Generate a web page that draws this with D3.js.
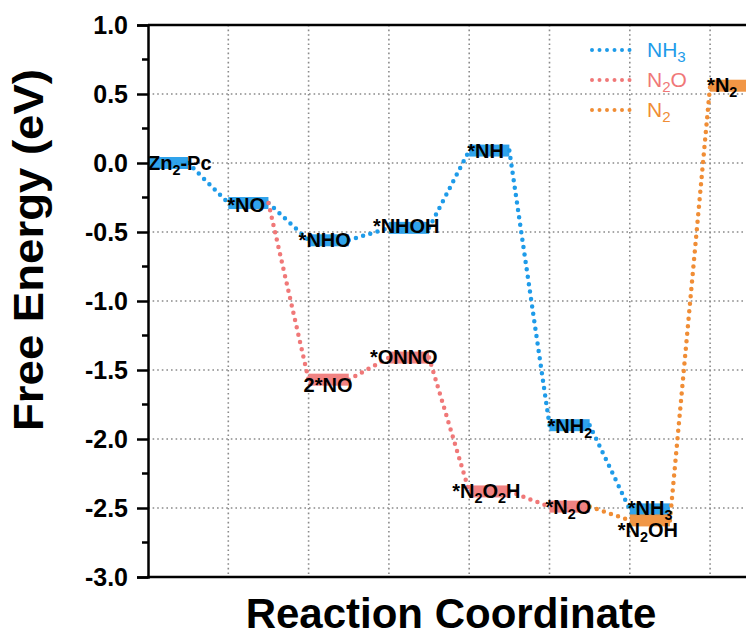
<!DOCTYPE html>
<html>
<head>
<meta charset="utf-8">
<script src="https://cdn.jsdelivr.net/npm/d3@7"></script>
<style>
  body { margin: 0; background: #fff; }
  svg { display: block; font-family: "Liberation Sans", Arial, sans-serif; }
</style>
</head>
<body>
<div id="container"></div>
<script>
// Reaction pathways (x = step index on the reaction coordinate, y = free energy in eV)
// "_2" marks a subscript digit
const nh3Steps  = ["Zn_2-Pc", "*NO", "*NHO", "*NHOH", "*NH", "*NH_2", "*NH_3"];
const nh3Pos    = [0, 1, 2, 3, 4, 5, 6];
const nh3Energy = [0.00, -0.29, -0.56, -0.47, 0.09, -1.90, -2.51];

const n2oSteps  = ["*NO", "2*NO", "*ONNO", "*N_2O_2H", "*N_2O"];
const n2oPos    = [1, 2, 3, 4, 5];
const n2oEnergy = [-0.29, -1.57, -1.41, -2.38, -2.49];

const n2Steps  = ["*N_2O", "*N_2OH", "*N_2"];
const n2Pos    = [5, 6, 7];
const n2Energy = [-2.49, -2.59, 0.56];

const seriesNames = ["NH_3", "N_2O", "N_2"];
const yTicks = [1.0, 0.5, 0.0, -0.5, -1.0, -1.5, -2.0, -2.5, -3.0];
const yMinorTicks = [0.75, 0.25, -0.25, -0.75, -1.25, -1.75, -2.25, -2.75];

window.onload = function () {
    const W = 746, H = 637;
    const colors = ["#1e9be9", "#f07878", "#f08d35"];

    const svg = d3.select('#container').append('svg')
        .attr('width', W).attr('height', H);

    // plot box (right side runs past the window, like the reference crop)
    const left = 148, top = 25, bottom = 577;
    const x = d3.scaleLinear().domain([0, 8]).range([left, left + 8 * 80.3]);
    const y = d3.scaleLinear().domain([-3, 1]).range([bottom, top]);

    // grid lines
    const grid = svg.append('g').attr('stroke', '#8a8a8a').attr('stroke-width', 1.6)
        .attr('stroke-dasharray', '1.6 3');
    grid.selectAll('.hg').data(yTicks.filter(d => d > -3 && d < 1)).enter()
        .append('line')
        .attr('x1', x(0)).attr('x2', x(8))
        .attr('y1', d => y(d)).attr('y2', d => y(d));
    grid.selectAll('.vg').data(d3.range(1, 8)).enter()
        .append('line')
        .attr('x1', d => x(d)).attr('x2', d => x(d))
        .attr('y1', y(1)).attr('y2', y(-3));

    // series table, first level of branch series is shared with the previous path
    const series = [
        { name: seriesNames[0], steps: nh3Steps, pos: nh3Pos, energy: nh3Energy, color: colors[0], skipFirst: false },
        { name: seriesNames[1], steps: n2oSteps, pos: n2oPos, energy: n2oEnergy, color: colors[1], skipFirst: true },
        { name: seriesNames[2], steps: n2Steps,  pos: n2Pos,  energy: n2Energy,  color: colors[2], skipFirst: true }
    ];

    // level bars
    const barH = 12;
    series.forEach(s => {
        const lv = s.steps.map((t, i) => ({ t: t, p: s.pos[i], e: s.energy[i] }))
            .filter((d, i) => !(s.skipFirst && i === 0));
        svg.append('g').selectAll('rect').data(lv).enter()
            .append('rect')
            .attr('x', d => x(d.p))
            .attr('y', d => y(d.e) - barH / 2)
            .attr('width', x(0.5) - x(0))
            .attr('height', barH)
            .attr('fill', s.color)
            .attr('opacity', 0.92);
    });

    // dotted connectors from right end of one level to left end of the next
    const dotted = (g, color) => g.attr('stroke', color).attr('stroke-width', 4.5)
        .attr('stroke-linecap', 'round').attr('stroke-dasharray', '0 7.5').attr('fill', 'none');
    series.forEach(s => {
        const segs = d3.range(s.steps.length - 1).map(i => ({
            x1: s.pos[i] + 0.5, y1: s.energy[i], x2: s.pos[i + 1], y2: s.energy[i + 1]
        }));
        svg.append('g').call(dotted, s.color).selectAll('line').data(segs).enter()
            .append('line')
            .attr('x1', d => x(d.x1)).attr('y1', d => y(d.y1))
            .attr('x2', d => x(d.x2)).attr('y2', d => y(d.y2));
    });

    // writes "A_2B" as A, subscript 2, B (no empty tspans)
    function richText(sel, str, subShift) {
        const parts = str.split(/_(\d)/);
        let pending = 0;
        parts.forEach((p, i) => {
            if (p === '') return;
            const sub = i % 2 === 1;
            const dy = (sub ? subShift : 0) + pending;
            const ts = sel.append('tspan').text(p);
            if (dy) ts.attr('dy', dy);
            if (sub) ts.attr('font-size', '0.72em');
            pending = sub ? -subShift : 0;
        });
    }

    // level labels, nudged like the reference (dx, dy from the bar's left end)
    const labelNudge = {
        "Zn_2-Pc": [0, 7], "*NO": [-1, 9], "*NHO": [-10, 7], "*NHOH": [-16, 5],
        "*NH": [-2, 7], "*NH_2": [-2, 8], "*NH_3": [-2, 6],
        "2*NO": [-5, 12], "*ONNO": [-19, 6], "*N_2O_2H": [-17, 7], "*N_2O": [-4, 7],
        "*N_2OH": [-12, 17], "*N_2": [-3, 6]
    };
    const labels = svg.append('g').attr('font-size', 20).attr('font-weight', 'bold').attr('fill', '#000');
    series.forEach(s => {
        s.steps.forEach((t, i) => {
            if (s.skipFirst && i === 0) return;
            const n = labelNudge[t] || [0, 7];
            const tx = labels.append('text')
                .attr('x', x(s.pos[i]) + n[0])
                .attr('y', y(s.energy[i]) + n[1]);
            richText(tx, t, 5);
        });
    });

    // axes: frame lines
    const axisG = svg.append('g').attr('stroke', '#000').attr('stroke-width', 2.5);
    axisG.append('line').attr('x1', left).attr('x2', x(8)).attr('y1', top).attr('y2', top);
    axisG.append('line').attr('x1', left - 1).attr('x2', x(8)).attr('y1', bottom).attr('y2', bottom);

    // y axis with major and minor ticks
    const yAxis = svg.append('g')
        .attr('transform', `translate(${left},0)`)
        .call(d3.axisLeft(y).tickValues(yTicks).tickSize(11).tickPadding(9)
            .tickFormat(d => d.toFixed(1)));
    yAxis.select('.domain').attr('stroke-width', 2.5);
    yAxis.selectAll('.tick line').attr('stroke-width', 2.5);
    yAxis.selectAll('.tick text')
        .attr('font-family', '"Liberation Sans", Arial, sans-serif')
        .attr('font-size', 25).attr('font-weight', 'bold').attr('fill', '#000');
    svg.append('g').attr('transform', `translate(${left},0)`)
        .selectAll('line').data(yMinorTicks).enter()
        .append('line')
        .attr('x1', -6).attr('x2', 0)
        .attr('y1', d => y(d)).attr('y2', d => y(d))
        .attr('stroke', '#000').attr('stroke-width', 2.5);

    // axis titles
    svg.append('text')
        .attr('transform', 'translate(43,250) rotate(-90)')
        .attr('text-anchor', 'middle')
        .attr('font-size', 42).attr('font-weight', 'bold')
        .attr('textLength', 362).attr('lengthAdjust', 'spacingAndGlyphs')
        .text('Free Energy (eV)');
    svg.append('text')
        .attr('x', 451).attr('y', 628)
        .attr('text-anchor', 'middle')
        .attr('font-size', 42).attr('font-weight', 'bold')
        .text('Reaction Coordinate');

    // legend
    const legend = svg.append('g').attr('transform', 'translate(592,50)');
    series.forEach((s, i) => {
        const row = legend.append('g').attr('transform', `translate(0,${i * 30})`);
        row.append('line').attr('x1', 0).attr('x2', 45).attr('y1', 0).attr('y2', 0)
            .call(dotted, s.color).attr('stroke-width', 4);
        const t = row.append('text').attr('x', 55).attr('y', 7)
            .attr('font-size', 21).attr('fill', s.color);
        richText(t, s.name, 5);
    });
};
</script>
</body>
</html>
